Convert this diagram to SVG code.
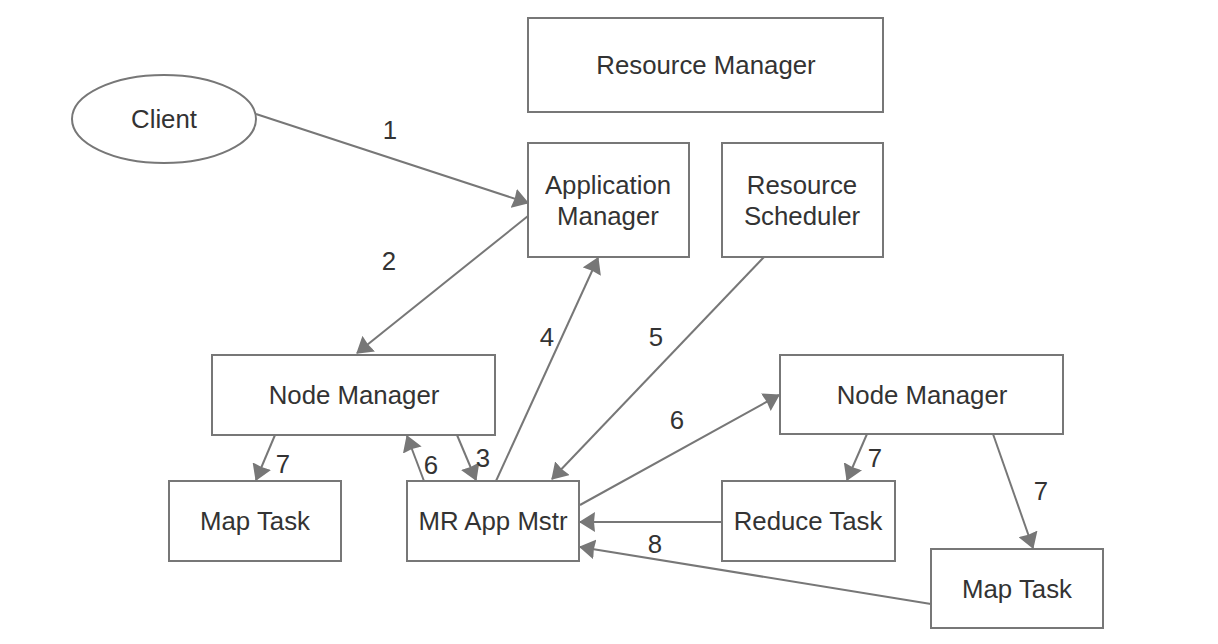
<svg xmlns="http://www.w3.org/2000/svg" width="1218" height="644" viewBox="0 0 1218 644">
<style>
.box{fill:#fff;stroke:#777;stroke-width:2}
.t{font-family:"Liberation Sans",Arial,sans-serif;font-size:25.8px;fill:#333;text-anchor:middle;dominant-baseline:central}
.lbl{font-family:"Liberation Sans",Arial,sans-serif;font-size:25.8px;fill:#333;text-anchor:middle}
.c{fill:none;stroke:#777;stroke-width:2}
.a{marker-end:url(#ah)}
</style>
<defs>
<marker id="ah" viewBox="0 0 16 20" refX="15" refY="10" markerWidth="16" markerHeight="20" markerUnits="userSpaceOnUse" orient="auto">
<path d="M0,0 L16,10 L0,20 L1,10 z" fill="#777"/>
</marker>
</defs>
<rect width="1218" height="644" fill="#fff"/>
<g id="resource-manager"><rect class="box" x="528" y="18" width="355" height="94"/><text class="t" x="706" y="65">Resource Manager</text></g>
<g id="client"><ellipse class="box" cx="164" cy="119" rx="92" ry="44"/><text class="t" x="164" y="119">Client</text></g>
<g id="application-manager"><rect class="box" x="528" y="143" width="161" height="114"/><text class="t" x="608" y="185">Application</text><text class="t" x="608" y="216">Manager</text></g>
<g id="resource-scheduler"><rect class="box" x="722" y="143" width="161" height="114"/><text class="t" x="802" y="185">Resource</text><text class="t" x="802" y="216">Scheduler</text></g>
<g id="node-manager-1"><rect class="box" x="212" y="355" width="283" height="80"/><text class="t" x="354" y="395">Node Manager</text></g>
<g id="node-manager-2"><rect class="box" x="780" y="355" width="283" height="79"/><text class="t" x="922" y="395">Node Manager</text></g>
<g id="map-task-1"><rect class="box" x="169" y="481" width="172" height="80"/><text class="t" x="255" y="521">Map Task</text></g>
<g id="mr-app-mstr"><rect class="box" x="407" y="481" width="172" height="80"/><text class="t" x="493" y="521">MR App Mstr</text></g>
<g id="reduce-task"><rect class="box" x="722" y="481" width="173" height="80"/><text class="t" x="808" y="521">Reduce Task</text></g>
<g id="map-task-2"><rect class="box" x="931" y="549" width="172" height="79"/><text class="t" x="1017" y="589">Map Task</text></g>
<g id="connectors">
<line class="c a" x1="256" y1="114" x2="528" y2="203"/>
<line class="c a" x1="528" y1="216" x2="357" y2="353"/>
<line class="c a" x1="496" y1="481" x2="598" y2="258"/>
<line class="c a" x1="764" y1="257" x2="552" y2="479"/>
<line class="c a" x1="424" y1="481" x2="407" y2="436"/>
<line class="c a" x1="457" y1="435" x2="476" y2="480"/>
<line class="c a" x1="580" y1="505" x2="779" y2="395"/>
<line class="c a" x1="722" y1="522" x2="580" y2="522"/>
<line class="c a" x1="931" y1="604" x2="580" y2="547"/>
<line class="c a" x1="275" y1="435" x2="256" y2="480"/>
<line class="c a" x1="867" y1="434" x2="847" y2="480"/>
<line class="c a" x1="993" y1="434" x2="1033" y2="548"/>
</g>
<g id="labels">
<text class="lbl" x="390" y="139">1</text>
<text class="lbl" x="389" y="270">2</text>
<text class="lbl" x="547" y="346">4</text>
<text class="lbl" x="656" y="346">5</text>
<text class="lbl" x="677" y="429">6</text>
<text class="lbl" x="283" y="473">7</text>
<text class="lbl" x="431" y="474">6</text>
<text class="lbl" x="483" y="467">3</text>
<text class="lbl" x="875" y="467">7</text>
<text class="lbl" x="1041" y="500">7</text>
<text class="lbl" x="655" y="553">8</text>
</g>
</svg>
